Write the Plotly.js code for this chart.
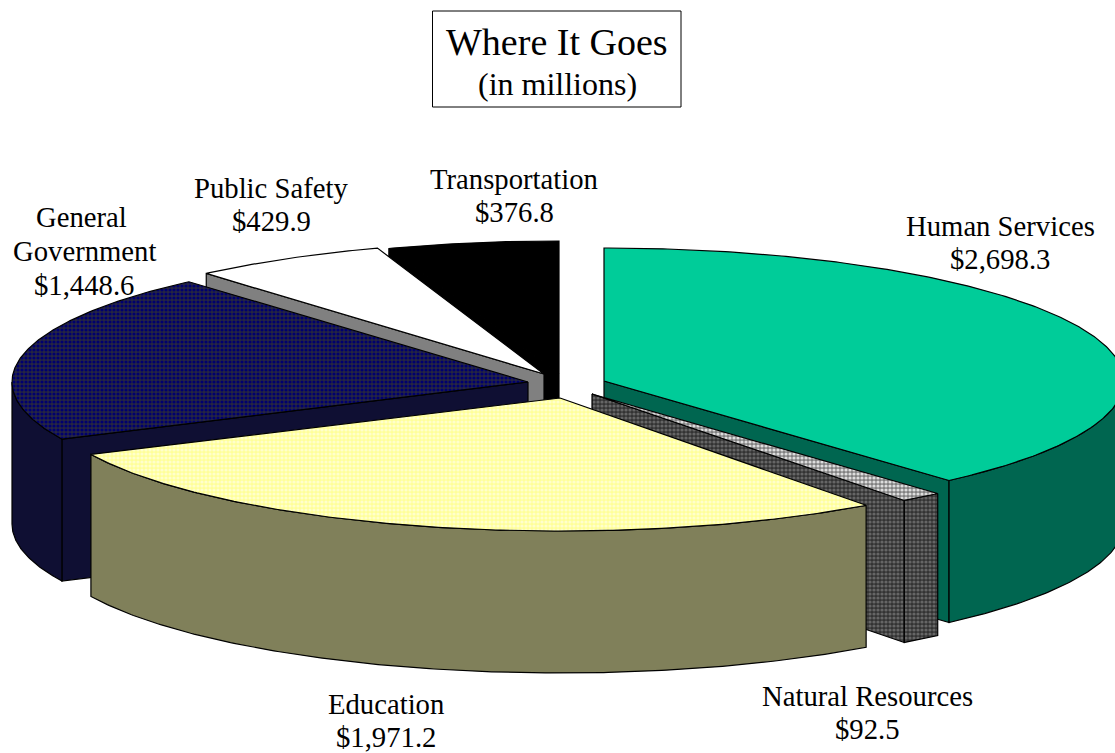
<!DOCTYPE html>
<html><head><meta charset="utf-8">
<script src="https://cdn.plot.ly/plotly-3.0.1.min.js"></script>
<style>html,body{margin:0;padding:0;background:#fff}#c{width:1115px;height:753px}</style>
</head><body><div id="c"></div>
<script>
// ---- data ----
const categories = ['Human Services','Natural Resources','Education','General|Government','Public Safety','Transportation'];
const values = [2698.3, 92.5, 1971.2, 1448.6, 429.9, 376.8];
const valueLabels = ['$2,698.3','$92.5','$1,971.2','$1,448.6','$429.9','$376.8'];

// ---- exploded-pie geometry (where each slice's tip sits after being pulled out) ----
const tipX = [604, 592, 560, 528, 544, 559];
const tipY = [381, 394, 398, 382, 374, 374];
const sliceRX = [520, 521, 518, 516, 516, 514];
const perspectiveTurn = [0, 0, 0.6, 0.3, 0.5, 0];
const labelX = [1000, 867, 386, 84, 271, 514];
const labelY = [226, 696, 704, 217, 188, 179];
const LINE_GAP = 33;
const RY = 133, DEPTH = 142;
const drawOrder = [5, 4, 3, 0, 1, 2];

// ---- styles ----
const dither = (fg, bg) => ({shape: '.', size: 4, solidity: 0.5, fgcolor: fg, bgcolor: bg, fillmode: 'replace'});
const topStyles = [
  {fillcolor: '#00CC99'},
  {fillcolor: '#AAAAAA', fillpattern: dither('#DDDDDD', '#808080')},
  {fillcolor: '#FFFFAA', fillpattern: dither('#FFFFCC', '#FFFF99')},
  {fillcolor: '#1A1A5E', fillpattern: dither('#00006E', '#262640')},
  {fillcolor: '#FFFFFF'},
  {fillcolor: '#000000'}
];
const wallStyles = [
  {fillcolor: '#006650'},
  {fillcolor: '#4D4D4D', fillpattern: dither('#666666', '#333333')},
  {fillcolor: '#80805A'},
  {fillcolor: '#0F0F33'},
  {fillcolor: '#808080'},
  {fillcolor: '#000000'}
];

const total = values.reduce((a, b) => a + b, 0);
const toRad = d => d * Math.PI / 180;
const rimX = (i, a) => tipX[i] + sliceRX[i] * Math.sin(toRad(a));
const rimY = (i, a) => tipY[i] - RY * Math.cos(toRad(a));
function arc(i, a, b) {
  const n = Math.max(2, Math.ceil(Math.abs(b - a) * 2)), xs = [], ys = [];
  for (let k = 0; k <= n; k++) { const t = a + (b - a) * k / n; xs.push(rimX(i, t)); ys.push(rimY(i, t)); }
  return {xs, ys};
}
function piece(xs, ys, style) {
  return Object.assign({type: 'scatter', mode: 'lines', x: xs, y: ys, fill: 'toself', hoverinfo: 'skip',
    line: {color: '#000000', width: 1.2, shape: 'linear'}, showlegend: false}, style);
}
const starts = []; let acc = 0;
values.forEach(v => { starts.push(acc / total * 360); acc += v; });
const traces = [];
drawOrder.forEach(i => {
  const a = starts[i] + perspectiveTurn[i], b = a + values[i] / total * 360;
  const wall = wallStyles[i];
  const edge = ang => {
    const x0 = tipX[i], y0 = tipY[i], x1 = rimX(i, ang), y1 = rimY(i, ang);
    traces.push(piece([x0, x1, x1, x0, x0], [y0, y1, y1 + DEPTH, y0 + DEPTH, y0], wall));
  };
  if (Math.sin(toRad(a)) < -1e-6) edge(a);
  if (Math.sin(toRad(b)) > 1e-6) edge(b);
  const lo = Math.max(a, 90), hi = Math.min(b, 270);
  if (hi > lo) {
    const r = arc(i, lo, hi);
    const xs = r.xs.concat(r.xs.slice().reverse());
    const ys = r.ys.concat(r.ys.slice().reverse().map(y => y + DEPTH));
    traces.push(piece(xs.concat(xs[0]), ys.concat(ys[0]), wall));
  }
  const t = arc(i, a, b);
  traces.push(piece([tipX[i]].concat(t.xs, tipX[i]), [tipY[i]].concat(t.ys, tipY[i]), topStyles[i]));
});

const serif = 'Liberation Serif, Times New Roman, serif';
const annotations = [];
categories.forEach((c, i) => {
  c.split('|').concat(valueLabels[i]).forEach((line, k) => annotations.push({
    x: labelX[i] - (line === 'General' ? 3 : 0), y: labelY[i] + k * LINE_GAP + (c.includes('|') ? k * 1 : 0), xref: 'x', yref: 'y', showarrow: false, xanchor: 'center', yanchor: 'middle',
    text: line, font: {family: serif, size: 28.7, color: '#000'}
  }));
});
annotations.push(
  {x: 557, y: 41.5, xref: 'x', yref: 'y', showarrow: false, text: 'Where It Goes', font: {family: serif, size: 38, color: '#000'}},
  {x: 557, y: 83.5, xref: 'x', yref: 'y', showarrow: false, text: '(in millions)', font: {family: serif, size: 32, color: '#000'}}
);
const layout = {
  width: 1115, height: 753, margin: {l: 0, r: 0, t: 0, b: 0}, paper_bgcolor: '#fff', plot_bgcolor: '#fff',
  showlegend: false, annotations,
  xaxis: {range: [0, 1115], visible: false, fixedrange: true},
  yaxis: {range: [753, 0], visible: false, fixedrange: true},
  shapes: [{type: 'rect', xref: 'x', yref: 'y', x0: 432.5, x1: 681, y0: 11, y1: 107, line: {color: '#000', width: 1}}]
};
Plotly.newPlot('c', traces, layout, {displayModeBar: false, staticPlot: true});
</script></body></html>
